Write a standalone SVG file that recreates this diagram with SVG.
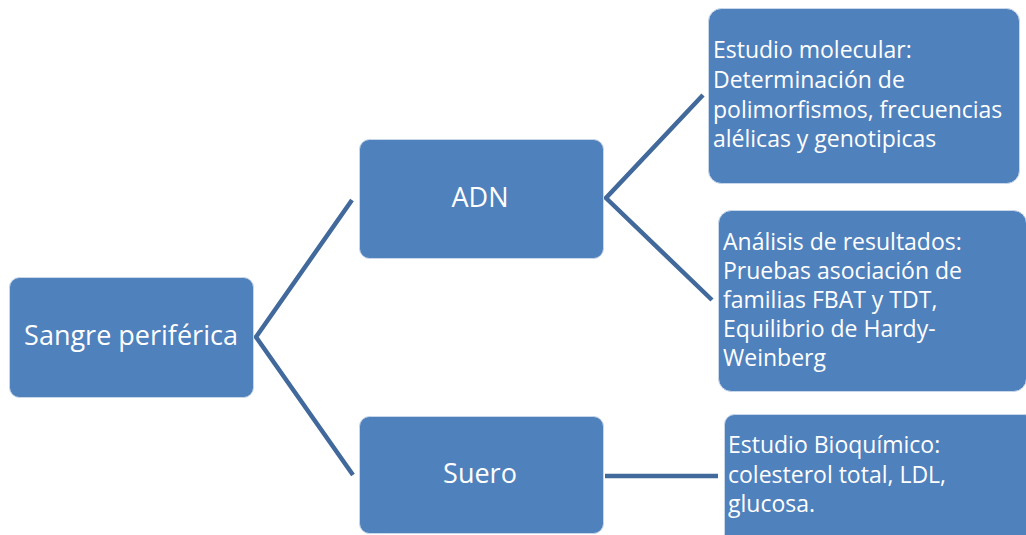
<svg xmlns="http://www.w3.org/2000/svg" width="1026" height="535" viewBox="0 0 1026 535">
  <style>
    .box { fill: #4f81bd; stroke: #c9d7ea; stroke-width: 1; }
    .lbl { font-family: "Open Sans", "Noto Sans", "DejaVu Sans", sans-serif; fill: #ffffff; }
    .big { font-size: 27px; text-anchor: middle; }
    .small { font-size: 23px; }
    .link { fill: none; stroke: #41699b; stroke-width: 4.5; stroke-linejoin: miter; stroke-linecap: butt; }
  </style>
  <rect width="1026" height="535" fill="#ffffff"/>

  <!-- connectors -->
  <g id="connectors">
    <polyline class="link" points="352,200 256,337 353,475"/>
    <polyline class="link" points="703,95 606,198 712,300"/>
    <line class="link" x1="605" y1="476" x2="718" y2="476"/>
  </g>

  <!-- root -->
  <g id="sangre">
    <rect class="box" x="9.5" y="277.5" width="244" height="120" rx="10"/>
    <text class="lbl big" x="131" y="345">Sangre periférica</text>
  </g>

  <!-- second level -->
  <g id="adn">
    <rect class="box" x="359.5" y="139.5" width="244" height="119" rx="10"/>
    <text class="lbl big" x="480" y="207">ADN</text>
  </g>
  <g id="suero">
    <rect class="box" x="359.5" y="416.5" width="244" height="117" rx="10"/>
    <text class="lbl big" x="480" y="483">Suero</text>
  </g>

  <!-- third level -->
  <g id="molecular">
    <rect class="box" x="708.5" y="8.5" width="311" height="175" rx="13"/>
    <text class="lbl small" x="713">
      <tspan x="713" y="58">Estudio molecular:</tspan>
      <tspan x="713" y="88">Determinación de</tspan>
      <tspan x="713" y="118">polimorfismos, frecuencias</tspan>
      <tspan x="713" y="147">alélicas y genotipicas</tspan>
    </text>
  </g>
  <g id="analisis">
    <rect class="box" x="718.5" y="210.5" width="308" height="181" rx="13"/>
    <text class="lbl small" x="723">
      <tspan x="723" y="250">Análisis de resultados:</tspan>
      <tspan x="723" y="279">Pruebas asociación de</tspan>
      <tspan x="723" y="308">familias FBAT y TDT,</tspan>
      <tspan x="723" y="337">Equilibrio de Hardy-</tspan>
      <tspan x="723" y="366">Weinberg</tspan>
    </text>
  </g>
  <g id="bioquimico">
    <rect class="box" x="724.5" y="414.5" width="310" height="130" rx="10"/>
    <text class="lbl small" x="728">
      <tspan x="728" y="453">Estudio Bioquímico:</tspan>
      <tspan x="728" y="483">colesterol total, LDL,</tspan>
      <tspan x="728" y="512">glucosa.</tspan>
    </text>
  </g>
</svg>
